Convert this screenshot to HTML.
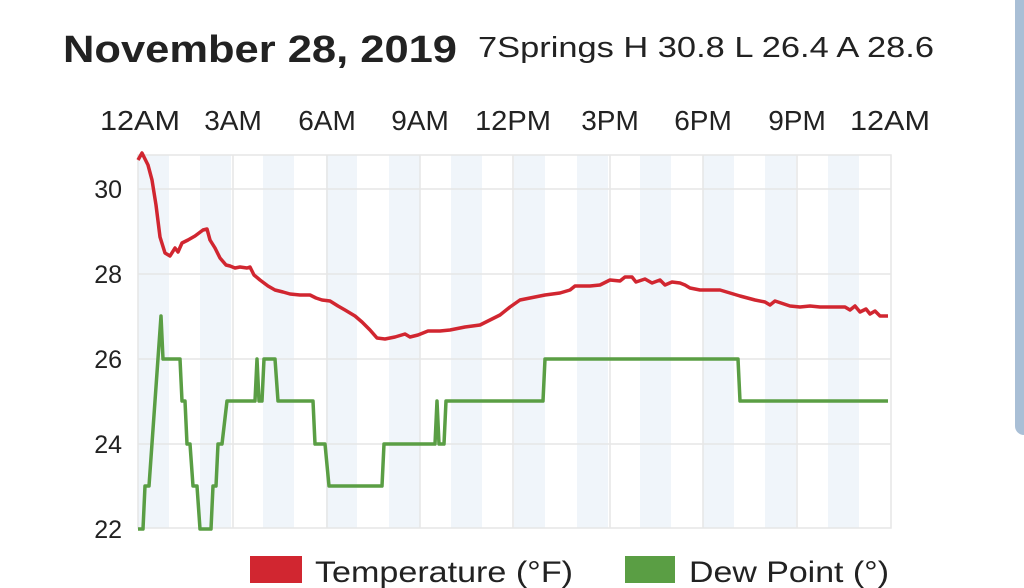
<!DOCTYPE html>
<html><head><meta charset="utf-8"><style>
html,body{margin:0;padding:0;background:#fff;width:1024px;height:588px;overflow:hidden}
svg{display:block}
text{font-family:"Liberation Sans",sans-serif;fill:#222}
</style></head><body>
<svg width="1024" height="588" viewBox="0 0 1024 588" xmlns="http://www.w3.org/2000/svg">
<rect x="1015" y="-10" width="30" height="445" rx="9" fill="#a9bfd6"/>
<text x="63" y="62" font-size="38" font-weight="bold" textLength="394" lengthAdjust="spacingAndGlyphs">November 28, 2019</text>
<text x="478" y="57" font-size="29" textLength="456" lengthAdjust="spacingAndGlyphs">7Springs H 30.8 L 26.4 A 28.6</text>
<g font-size="28" text-anchor="middle">
<text x="140" y="130" textLength="80" lengthAdjust="spacingAndGlyphs">12AM</text><text x="233" y="130">3AM</text><text x="327" y="130">6AM</text><text x="420" y="130">9AM</text><text x="513" y="130" textLength="76" lengthAdjust="spacingAndGlyphs">12PM</text><text x="610" y="130">3PM</text><text x="703" y="130">6PM</text><text x="797" y="130">9PM</text><text x="890" y="130" textLength="80" lengthAdjust="spacingAndGlyphs">12AM</text>
</g>
<g font-size="25" text-anchor="end">
<text x="122" y="198">30</text><text x="122" y="283">28</text><text x="122" y="368">26</text><text x="122" y="453">24</text><text x="122" y="538">22</text>
</g>
<g fill="#f0f5fa">
<rect x="138" y="155" width="31" height="373"/><rect x="200" y="155" width="31" height="373"/><rect x="263" y="155" width="31" height="373"/><rect x="326" y="155" width="31" height="373"/><rect x="389" y="155" width="31" height="373"/><rect x="451" y="155" width="31" height="373"/><rect x="514" y="155" width="31" height="373"/><rect x="577" y="155" width="31" height="373"/><rect x="640" y="155" width="31" height="373"/><rect x="703" y="155" width="31" height="373"/><rect x="765" y="155" width="31" height="373"/><rect x="828" y="155" width="31" height="373"/>
</g>
<g stroke="#e6e6e6" stroke-width="1.5" fill="none">
<rect x="138" y="155" width="753" height="373"/>
<path d="M138 189H891M138 274H891M138 359H891M138 444H891M233 155V528M327 155V528M420 155V528M513 155V528M610 155V528M703 155V528M797 155V528"/>
</g>
<polyline fill="none" stroke="#d12630" stroke-width="3.5" stroke-linejoin="round" points="138,160 142,153 148,165 152,180 156,205 160,237 165,253 170,256 175,248 178,252 182,243 188,240 195,236 203,230 207,229 210,240 215,248 220,258 226,265 230,266 235,268 240,267 247,268 250,267 254,275 260,280 268,286 275,290 283,292 290,294 300,295 310,295 316,298 322,300 330,301 338,306 345,310 355,316 362,322 370,330 377,338 385,339 395,337 405,334 410,337 418,335 428,331 440,331 450,330 465,327 480,325 490,320 500,315 510,307 520,300 530,298 545,295 560,293 570,290 575,286 590,286 600,285 610,280 620,281 625,277 632,277 636,282 645,279 652,283 660,280 665,285 672,282 680,283 685,285 690,288 700,290 720,290 730,293 740,296 755,300 765,302 770,305 775,301 790,306 800,307 810,306 820,307 845,307 850,310 855,306 860,312 866,309 870,314 875,311 880,316 888,316"/>
<polyline fill="none" stroke="#5a9e44" stroke-width="3.5" stroke-linejoin="round" points="138,529 143,529 145,486 149,486 161,316 163,359 180,359 182,401 185,401 187,444 190,444 193,486 197,486 200,529 211,529 213,486 216,486 218,444 222,444 227,401 255,401 257,359 259,401 262,401 264,359 275,359 278,401 313,401 315,444 325,444 329,486 382,486 384,444 435,444 437,401 439,444 444,444 446,401 543,401 545,359 738,359 740,401 888,401"/>
<rect x="250" y="556" width="52" height="27" fill="#d12630"/>
<text x="315" y="582" font-size="30" textLength="258" lengthAdjust="spacingAndGlyphs">Temperature (°F)</text>
<rect x="625" y="556" width="50" height="27" fill="#5a9e44"/>
<text x="689" y="582" font-size="30" textLength="200" lengthAdjust="spacingAndGlyphs">Dew Point (°)</text>
</svg>
</body></html>
